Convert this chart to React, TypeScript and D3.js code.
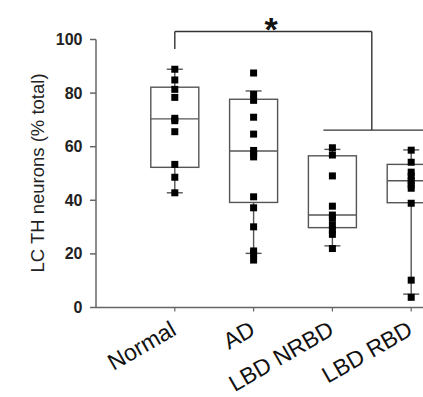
import React from "react";
import * as d3 from "d3";

const categories = ["Normal", "AD", "LBD NRBD", "LBD RBD"];
const yTicks = [0, 20, 40, 60, 80, 100];

// box statistics
const q1 = [52.3, 39.2, 29.8, 39.1];
const medians = [70.4, 58.4, 34.5, 47.3];
const q3 = [82.2, 77.7, 56.6, 53.4];
const whiskerLow = [42.8, 20.2, 23.0, 5.0];
const whiskerHigh = [88.9, 80.8, 59.0, 58.8];

// individual points
const pointsNormal = [88.9, 84.9, 81.4, 78.4, 70.6, 69.7, 65.6, 53.4, 48.6, 42.8];
const pointsAD = [87.5, 79.5, 77.3, 71, 64.7, 58.6, 57.2, 56.2, 41.3, 37.2, 30.1, 21.1, 20, 17.7];
const pointsNRBD = [59.6, 56.9, 49.1, 37.8, 34.5, 33.3, 30.8, 28.9, 27.3, 22.0];
const pointsRBD = [58.7, 54.2, 50.5, 49, 47.3, 45.8, 44.5, 38.9, 10.2, 3.8];
const groupPoints = [pointsNormal, pointsAD, pointsNRBD, pointsRBD];

// significance bracket levels (value units)
const bracketTop = 103;
const bracketLeftEnd = 96.5;
const bracketLower = 66.2;

const W = 423;
const H = 397;
const font = "'Liberation Sans', Arial, Helvetica, sans-serif";

export default function App() {
  const y = d3.scaleLinear().domain([0, 100]).range([307.5, 39.5]);
  const x = d3
    .scalePoint<string>()
    .domain(categories)
    .range([96, 96 + 5 * 78.8])
    .padding(1);

  const boxW = 48;
  const capW = 16;
  const sq = 7;
  const axisColor = "#666";
  const boxColor = "#555";

  const xr = x(categories[2])!;
  const xs = x(categories[3])!;
  const midRight = (xr + xs) / 2;

  return (
    <svg
      width={W}
      height={H}
      style={{ position: "absolute", left: 0, top: 0, background: "#fff" }}
      fontFamily={font}
    >
      {/* y axis */}
      <line x1={96} x2={96} y1={y(0)} y2={y(100)} stroke={axisColor} strokeWidth={1.5} />
      {yTicks.map((t) => (
        <g key={t}>
          <line x1={90} x2={96} y1={y(t)} y2={y(t)} stroke={axisColor} strokeWidth={1.5} />
          <text
            x={82.5}
            y={y(t)}
            textAnchor="end"
            dominantBaseline="central"
            fontSize={16}
            fontWeight="bold"
            fill="#222"
          >
            {t}
          </text>
        </g>
      ))}
      <text
        transform={`translate(43.5, 173) rotate(-90)`}
        textAnchor="middle"
        fontSize={18.5}
        fill="#222"
      >
        LC TH neurons (% total)
      </text>

      {/* x axis */}
      <line x1={96} x2={W + 5} y1={y(0)} y2={y(0)} stroke={axisColor} strokeWidth={1.5} />
      {categories.map((c) => (
        <g key={c}>
          <line x1={x(c)!} x2={x(c)!} y1={y(0)} y2={y(0) + 4} stroke={axisColor} strokeWidth={1.2} />
          <text
            transform={`translate(${x(c)! + 3}, 334) rotate(-30)`}
            textAnchor="end"
            fontSize={23}
            fill="#111"
          >
            {c}
          </text>
        </g>
      ))}

      {/* boxes */}
      {categories.map((c, i) => {
        const cx = x(c)!;
        return (
          <g key={c} stroke={boxColor} strokeWidth={1.4} fill="none">
            <line x1={cx} x2={cx} y1={y(q3[i])} y2={y(whiskerHigh[i])} />
            <line x1={cx} x2={cx} y1={y(q1[i])} y2={y(whiskerLow[i])} />
            <line x1={cx - capW / 2} x2={cx + capW / 2} y1={y(whiskerHigh[i])} y2={y(whiskerHigh[i])} />
            <line x1={cx - capW / 2} x2={cx + capW / 2} y1={y(whiskerLow[i])} y2={y(whiskerLow[i])} />
            <rect x={cx - boxW / 2} y={y(q3[i])} width={boxW} height={y(q1[i]) - y(q3[i])} />
            <line x1={cx - boxW / 2} x2={cx + boxW / 2} y1={y(medians[i])} y2={y(medians[i])} />
          </g>
        );
      })}

      {/* points */}
      {groupPoints.map((pts, i) =>
        pts.map((v, j) => (
          <rect
            key={`${i}-${j}`}
            x={x(categories[i])! - sq / 2}
            y={y(v) - sq / 2}
            width={sq}
            height={sq}
            fill="#000"
          />
        ))
      )}

      {/* significance bracket */}
      <g stroke="#333" strokeWidth={1.4} fill="none">
        <line x1={x(categories[0])!} x2={x(categories[0])!} y1={y(bracketTop)} y2={y(bracketLeftEnd)} />
        <line x1={x(categories[0])!} x2={midRight} y1={y(bracketTop)} y2={y(bracketTop)} />
        <line x1={midRight} x2={midRight} y1={y(bracketTop)} y2={y(bracketLower)} />
        <line x1={xr - 9} x2={W + 5} y1={y(bracketLower)} y2={y(bracketLower)} />
      </g>
      <text x={271} y={41} textAnchor="middle" fontSize={34} fontWeight="bold" fill="#111">
        *
      </text>
    </svg>
  );
}
